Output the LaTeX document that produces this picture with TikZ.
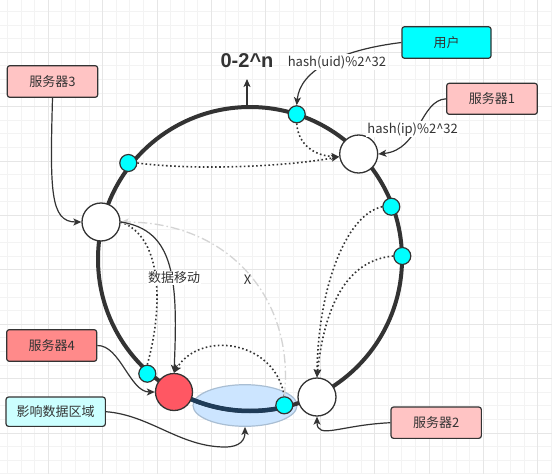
\documentclass[tikz,border=0pt]{standalone}
\usepackage{fontspec}
\setmainfont{Noto Sans CJK SC}
\newfontfamily\titlefont{Liberation Sans}
\usetikzlibrary{arrows.meta,shapes.geometric}
\definecolor{txt}{HTML}{333333}
\definecolor{edge}{HTML}{333333}
\definecolor{gridminor}{HTML}{F3F3F3}
\definecolor{gridmajor}{HTML}{E6E6E6}
\definecolor{pinkbox}{HTML}{FFC4C4}
\definecolor{salmonbox}{HTML}{FF8A8A}
\definecolor{cyanbox}{HTML}{00FFFF}
\definecolor{lightcyan}{HTML}{CCFFFF}
\definecolor{rednode}{HTML}{FF5763}
\definecolor{zonefill}{HTML}{CCE5FF}
\definecolor{zoneline}{HTML}{A9BED3}
\definecolor{navy}{HTML}{1F3C58}
\definecolor{ghost}{HTML}{D4D4D4}
\tikzset{
  lbltext/.style={text=txt, font=\fontsize{13}{15}\selectfont},
  boxnode/.style={draw=edge, line width=1.2pt, rounded corners=2.5pt, lbltext, inner sep=0pt},
  whitenode/.style={circle, draw=edge, fill=white, line width=1.3pt, minimum size=38pt, inner sep=0pt},
  cyannode/.style={circle, draw=edge, fill=cyanbox, line width=1.2pt, minimum size=17pt, inner sep=0pt},
  hotnode/.style={circle, draw=edge, fill=rednode, line width=1.3pt, minimum size=37pt, inner sep=0pt},
  tipstyle/.style={-{Stealth[length=8pt,width=7pt,inset=2pt]}},
  conn/.style={draw=edge, line width=1.2pt, tipstyle},
  dotconn/.style={draw=edge, line width=1.6pt, dash pattern=on 1.6pt off 2.5pt},
  ghostconn/.style={draw=ghost, line width=1.3pt, dash pattern=on 9pt off 3pt on 1.5pt off 3pt},
  edgelabel/.style={lbltext, fill=white, inner sep=1pt},
}
\begin{document}
\begin{tikzpicture}[x=1pt,y=-1pt,line join=round]
\useasboundingbox (0,0) rectangle (552,474);
\fill[white] (0,0) rectangle (552,474);
% grid
\foreach \k in {0,...,40} {\draw[gridminor, line width=0.9pt] ({7.5+13.6*\k},0) -- ({7.5+13.6*\k},474);}
\foreach \k in {0,...,34} {\draw[gridminor, line width=0.9pt] (0,{11.5+13.6*\k}) -- (552,{11.5+13.6*\k});}
\foreach \k in {3,7,...,39} {\draw[gridmajor, line width=0.9pt] ({7.5+13.6*\k},0) -- ({7.5+13.6*\k},474);}
\foreach \k in {3,7,...,31} {\draw[gridmajor, line width=0.9pt] (0,{11.5+13.6*\k}) -- (552,{11.5+13.6*\k});}

% affected zone
\node[ellipse, draw=zoneline, fill=zonefill, line width=1.2pt, minimum width=104pt, minimum height=41.6pt, inner sep=0pt] (zone) at (245,405.5) {};

% ring
\draw[edge, line width=4pt] (250,259) circle [radius=152];
\draw[navy, line width=4.5pt] (250,259) ++(76.9:152) arc[start angle=76.9, end angle=119.7, radius=152];

% ring nodes
\node[whitenode] (n1) at (358.7,154) {};
\node[whitenode] (n3) at (101,222) {};
\node[whitenode] (n2) at (317,397) {};
\node[hotnode] (n4) at (174,392) {};
\node[cyannode] (c1) at (128.3,163) {};
\node[cyannode] (c2) at (296.7,114.3) {};
\node[cyannode] (c3) at (391.3,206.7) {};
\node[cyannode] (c4) at (402.3,256) {};
\node[cyannode] (c5) at (147.3,373.7) {};
\node[cyannode] (c6) at (284.3,405.3) {};

% boxes
\node[boxnode, fill=pinkbox, minimum width=90.4pt, minimum height=31.6pt] (s3) at (52.5,81.5) {服务器3};
\node[boxnode, fill=pinkbox, minimum width=90.6pt, minimum height=31pt] (s1) at (492,98.8) {服务器1};
\node[boxnode, fill=salmonbox, minimum width=90pt, minimum height=31.6pt] (s4) at (51.7,345.5) {服务器4};
\node[boxnode, fill=lightcyan, minimum width=99.3pt, minimum height=29.3pt] (imp) at (55.7,411.7) {影响数据区域};
\node[boxnode, fill=pinkbox, minimum width=90.3pt, minimum height=31.3pt] (s2) at (436.2,422.7) {服务器2};
\node[boxnode, fill=cyanbox, minimum width=89pt, minimum height=31.6pt] (user) at (446.5,42.5) {用户};

% title
\node[text=txt, font=\titlefont\bfseries\fontsize{20}{23}\selectfont] (title) at (247,61) {0-2\textasciicircum n};
\coordinate (ringtop) at (247,107);
\coordinate (titletip) at (247,79);
\draw[conn] (ringtop) -- (titletip);

% dotted data mappings
\draw[dotconn, tipstyle] (c2.south) .. controls (298,145) and (315,156) .. (n1.188);
\draw[dotconn, tipstyle] (c1.east) .. controls (200,171) and (290,166) .. (n1.188);
\draw[dotconn, tipstyle] (c3.west) .. controls (345,215) and (318,290) .. (n2.north);
\draw[dotconn, tipstyle] (c4.west) .. controls (350,260) and (325,300) .. (n2.north);
\draw[dotconn] (c5.north) .. controls (165,300) and (160,235) .. (n3.east);
\draw[dotconn, tipstyle] (c6.north) .. controls (275,340) and (200,330) .. (n4.north);

% old mapping (crossed)
\draw[ghostconn, -{Stealth[length=8pt,width=7pt,inset=2pt]}] (c6.north) .. controls (295,300) and (230,222) .. (n3.east);
\node[lbltext] (xlbl) at (247.5,280) {X};

% data move
\draw[conn] (n3.east) .. controls (175,230) and (178,280) .. (n4.north);
\node[edgelabel] (movelbl) at (174,278) {数据移动};

% box connectors
\draw[conn] (user.west) .. controls (340,50) and (300,70) .. (c2.north);
\node[edgelabel] (uidlbl) at (337,62) {hash(uid)\%2\textasciicircum 32};
\draw[conn] (s1.west) .. controls (420,100) and (420,150) .. (n1.east);
\node[edgelabel] (iplbl) at (412.7,129.3) {hash(ip)\%2\textasciicircum 32};
\draw[conn] (s3.south) .. controls (50,190) and (50,222) .. (n3.west);
\draw[conn] (s4.east) .. controls (120,345) and (130,392) .. (n4.west);
\draw[conn] (imp.east) .. controls (150,415) and (180,447) .. (225,447) .. controls (240,447) and (245,440) .. (zone.south);
\draw[conn] (s2.west) .. controls (340,425) and (317,440) .. (n2.south);
\end{tikzpicture}
\end{document}
